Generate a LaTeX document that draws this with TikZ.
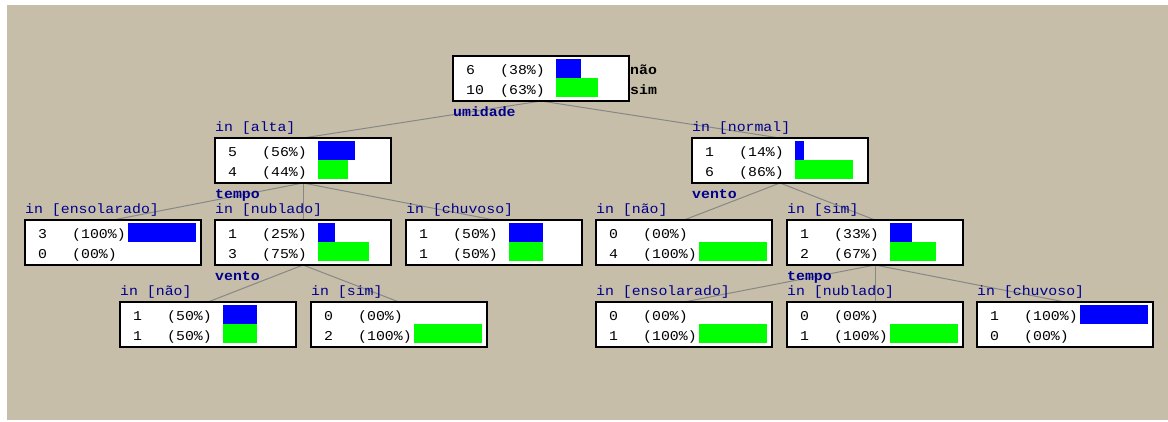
\documentclass[tikz,border=0pt]{standalone}
\usepackage{fontspec}
\newfontfamily\monof[FakeStretch=1.1]{Liberation Mono}
\definecolor{bgtan}{RGB}{198,190,168}
\definecolor{navyc}{RGB}{0,0,140}
\definecolor{barblue}{RGB}{0,0,255}
\definecolor{bargreen}{RGB}{0,255,0}
\definecolor{edgegray}{RGB}{135,135,135}
\pgfdeclarelayer{back}
\pgfdeclarelayer{edges}
\pgfsetlayers{back,edges,main}
\tikzset{
  treebox/.style={draw=black, line width=1.3pt, fill=white, minimum width=176pt, minimum height=45pt, anchor=north west, inner sep=0pt, outer sep=0pt},
  txt/.style={font=\monof\fontsize{13.5}{15}\selectfont, anchor=base west, inner sep=0pt, text=black},
  cond/.style={txt, text=navyc},
  attr/.style={txt, text=navyc, font=\monof\bfseries\fontsize{13.5}{15}\selectfont},
  cls/.style={attr, text=black},
  bluebar/.style={fill=barblue, draw=none, anchor=north west, inner sep=0pt, outer sep=0pt, minimum height=19pt},
  greenbar/.style={fill=bargreen, draw=none, anchor=north west, inner sep=0pt, outer sep=0pt, minimum height=19pt},
  edge/.style={draw=edgegray, line width=1pt}
}
\newcommand\tbox[7]{% name x y n1 p1 n2 p2
  \node[treebox] (#1) at (#2,#3) {};
  \node[txt] (#1-n1) at ([xshift=13pt,yshift=-18pt]#1.north west) {#4};
  \node[txt] (#1-p1) at ([xshift=47pt,yshift=-18pt]#1.north west) {#5};
  \node[txt] (#1-n2) at ([xshift=13pt,yshift=-38pt]#1.north west) {#6};
  \node[txt] (#1-p2) at ([xshift=47pt,yshift=-38pt]#1.north west) {#7};
}
\newcommand\blab[2]{\node[cond] (#1-lab) at ([yshift=7pt]#1.north west) {#2};}
\newcommand\bbar[2]{\node[bluebar, minimum width=#2pt] (#1-bb) at ([xshift=103pt,yshift=-3pt]#1.north west) {};}
\newcommand\gbar[2]{\node[greenbar, minimum width=#2pt] (#1-gb) at ([xshift=103pt,yshift=-22pt]#1.north west) {};}
\begin{document}
\begin{tikzpicture}[x=1pt,y=-1pt]
\useasboundingbox (0,0) rectangle (1168,421);
\begin{pgfonlayer}{back}
  \fill[bgtan] (7,5) rectangle (1168,420);
\end{pgfonlayer}

% root
\tbox{root}{453}{56}{6}{(38\%)}{10}{(63\%)}
\bbar{root}{25}\gbar{root}{42}
\node[cls] (cnao) at ([xshift=1pt,yshift=-18pt]root.north east) {não};
\node[cls] (csim) at ([xshift=1pt,yshift=-38pt]root.north east) {sim};
\node[attr] (a-umidade) at ([yshift=-15pt]root.south west) {umidade};

% level 1
\tbox{alta}{215}{138}{5}{(56\%)}{4}{(44\%)}
\blab{alta}{in [alta]}\bbar{alta}{37}\gbar{alta}{30}
\node[attr] (a-tempo1) at ([yshift=-15pt]alta.south west) {tempo};

\tbox{normal}{692}{138}{1}{(14\%)}{6}{(86\%)}
\blab{normal}{in [normal]}\bbar{normal}{9}\gbar{normal}{58}
\node[attr] (a-vento1) at ([yshift=-15pt]normal.south west) {vento};

% level 2
\tbox{ensA}{25}{220}{3}{(100\%)}{0}{(00\%)}
\blab{ensA}{in [ensolarado]}\bbar{ensA}{68}

\tbox{nubA}{215}{220}{1}{(25\%)}{3}{(75\%)}
\blab{nubA}{in [nublado]}\bbar{nubA}{17}\gbar{nubA}{51}
\node[attr] (a-vento2) at ([yshift=-15pt]nubA.south west) {vento};

\tbox{chuA}{406}{220}{1}{(50\%)}{1}{(50\%)}
\blab{chuA}{in [chuvoso]}\bbar{chuA}{34}\gbar{chuA}{34}

\tbox{naoB}{596}{220}{0}{(00\%)}{4}{(100\%)}
\blab{naoB}{in [não]}\gbar{naoB}{68}

\tbox{simB}{787}{220}{1}{(33\%)}{2}{(67\%)}
\blab{simB}{in [sim]}\bbar{simB}{22}\gbar{simB}{46}
\node[attr] (a-tempo2) at ([yshift=-15pt]simB.south west) {tempo};

% level 3
\tbox{naoC}{120}{302}{1}{(50\%)}{1}{(50\%)}
\blab{naoC}{in [não]}\bbar{naoC}{34}\gbar{naoC}{34}

\tbox{simC}{311}{302}{0}{(00\%)}{2}{(100\%)}
\blab{simC}{in [sim]}\gbar{simC}{68}

\tbox{ensD}{596}{302}{0}{(00\%)}{1}{(100\%)}
\blab{ensD}{in [ensolarado]}\gbar{ensD}{68}

\tbox{nubD}{787}{302}{0}{(00\%)}{1}{(100\%)}
\blab{nubD}{in [nublado]}\gbar{nubD}{68}

\tbox{chuD}{977}{302}{1}{(100\%)}{0}{(00\%)}
\blab{chuD}{in [chuvoso]}\bbar{chuD}{68}

\begin{pgfonlayer}{edges}
  \draw[edge] (root.south) -- (alta.north);
  \draw[edge] (root.south) -- (normal.north);
  \draw[edge] (alta.south) -- (ensA.north);
  \draw[edge] (alta.south) -- (nubA.north);
  \draw[edge] (alta.south) -- (chuA.north);
  \draw[edge] (normal.south) -- (naoB.north);
  \draw[edge] (normal.south) -- (simB.north);
  \draw[edge] (nubA.south) -- (naoC.north);
  \draw[edge] (nubA.south) -- (simC.north);
  \draw[edge] (simB.south) -- (ensD.north);
  \draw[edge] (simB.south) -- (nubD.north);
  \draw[edge] (simB.south) -- (chuD.north);
\end{pgfonlayer}
\end{tikzpicture}
\end{document}
